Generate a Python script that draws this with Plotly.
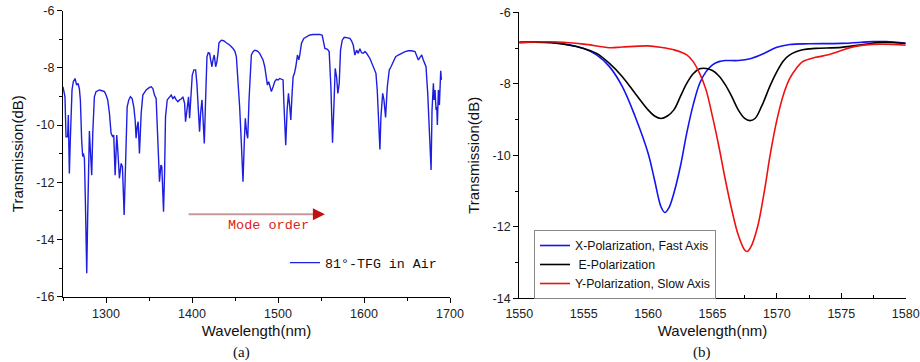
import plotly.graph_objects as go

# ---------------- Panel (a): 81°-TFG in air ----------------
wl_a = [1250, 1252.3, 1253.5, 1255.4, 1256.2, 1257.4, 1258.5, 1260.5, 1262.0, 1264.0,
        1265.9, 1267.5, 1269.0, 1270.2, 1271.7, 1272.9, 1273.7, 1274.9, 1276.0, 1277.6,
        1278.7, 1280.7, 1281.8, 1283.4, 1284.6, 1286.5, 1288.4, 1292.3, 1294.3, 1298.2,
        1300.1, 1302.0, 1304.0, 1305.9, 1307.9, 1309.0, 1310.6, 1311.7, 1312.5, 1313.7,
        1315.6, 1317.6, 1319.1, 1321.1, 1322.6, 1324.6, 1326.5, 1328.4, 1330.4, 1332.3,
        1333.9, 1335.0, 1336.2, 1337.4, 1338.9, 1340.9, 1342.8, 1346.7, 1350.6, 1352.5,
        1354.5, 1356.4, 1358.3, 1360.3, 1361.5, 1362.2, 1363.8, 1364.9, 1366.1, 1366.9,
        1368.1, 1369.2, 1371.2, 1373.9, 1375.8, 1377.8, 1379.7, 1381.7, 1383.6, 1385.5,
        1387.5, 1389.4, 1391.4, 1392.5, 1394.1, 1396.0, 1397.2, 1398.7, 1400.3, 1402.2,
        1404.2, 1405.7, 1407.3, 1408.8, 1410.0, 1411.6, 1412.7, 1414.3, 1415.8, 1417.4,
        1418.9, 1420.5, 1421.7, 1423.2, 1424.4, 1425.9, 1427.5, 1429.0, 1430.2, 1431.4,
        1434.1, 1436.8, 1439.9, 1443.8, 1447.7, 1450.0, 1451.6, 1453.5, 1455.4, 1457.4,
        1459.3, 1460.9, 1462.0, 1463.6, 1464.8, 1466.3, 1467.9, 1469.0, 1471.0, 1472.9,
        1474.9, 1476.8, 1478.7, 1480.7, 1482.6, 1484.6, 1486.5, 1487.7, 1489.2, 1490.4,
        1492.3, 1494.3, 1496.2, 1498.2, 1500.1, 1502.0, 1504.0, 1505.9, 1506.7, 1507.9,
        1509.0, 1510.6, 1512.2, 1513.7, 1514.9, 1516.4, 1517.6, 1519.1, 1520.7, 1522.6,
        1524.2, 1525.3, 1527.3, 1530.0, 1533.1, 1537.0, 1540.9, 1544.8, 1548.6, 1551.4,
        1552.5, 1554.5, 1557.6, 1559.5, 1561.5, 1562.6, 1563.4, 1565.0, 1566.5, 1568.1,
        1569.6, 1571.2, 1572.7, 1574.7, 1577.0, 1579.7, 1583.6, 1585.5, 1587.5, 1589.4,
        1591.4, 1593.3, 1595.2, 1597.2, 1599.1, 1601.1, 1603.0, 1606.9, 1610.8, 1613.9,
        1615.4, 1617.0, 1618.5, 1619.7, 1621.7, 1623.2, 1625.1, 1627.1, 1629.4, 1631.4,
        1634.1, 1636.8, 1639.9, 1643.8, 1647.7, 1651.6, 1655.4, 1659.3, 1661.3, 1663.2,
        1665.1, 1667.1, 1669.0, 1671.0, 1672.1, 1674.1, 1676.0, 1678.0, 1679.1, 1680.7,
        1681.5, 1682.6, 1683.8, 1684.6, 1685.3, 1686.5, 1687.7, 1688.4, 1689.2, 1690.0]
tr_a = [-8.66, -9.01, -10.41, -10.41, -9.65, -11.69, -10.52, -8.77, -8.48, -8.37,
        -8.60, -8.54, -8.72, -9.12, -10.52, -11.10, -10.99, -11.16, -12.62, -15.18,
        -13.20, -10.21, -10.87, -11.75, -10.29, -9.01, -8.83, -8.77, -8.79, -8.83,
        -8.95, -9.12, -9.59, -10.29, -10.41, -10.35, -11.75, -11.10, -10.35, -10.87,
        -11.86, -11.34, -11.45, -13.14, -11.22, -9.36, -9.12, -9.01, -9.07, -9.36,
        -9.82, -10.46, -10.06, -9.88, -10.99, -9.59, -8.95, -8.77, -8.68, -8.66,
        -8.72, -8.95, -9.07, -10.29, -11.45, -11.98, -11.40, -11.45, -12.39, -13.03,
        -11.69, -9.71, -9.12, -9.01, -8.95, -9.07, -9.01, -9.12, -9.18, -9.12,
        -9.09, -9.01, -9.24, -9.88, -9.36, -9.01, -9.76, -9.12, -8.25, -8.07,
        -8.07, -8.54, -9.47, -10.23, -9.59, -9.12, -9.71, -10.64, -9.12, -7.61,
        -7.47, -7.49, -7.72, -7.96, -7.72, -7.55, -7.96, -7.78, -7.49, -7.12,
        -7.03, -7.05, -7.12, -7.20, -7.32, -7.43, -7.61, -8.42, -9.36, -10.64,
        -11.98, -10.52, -9.76, -10.29, -10.46, -9.12, -7.84, -7.55, -7.43, -7.38,
        -7.40, -7.43, -7.49, -7.61, -7.72, -7.96, -8.48, -8.60, -8.48, -8.66,
        -8.83, -8.66, -8.48, -8.40, -8.42, -8.37, -8.40, -8.42, -9.12, -10.29,
        -10.70, -9.47, -8.89, -9.36, -9.82, -8.89, -8.31, -8.19, -7.96, -7.55,
        -7.72, -7.55, -7.14, -6.97, -6.91, -6.85, -6.83, -6.82, -6.83, -6.86,
        -7.03, -7.32, -7.35, -7.43, -8.66, -9.94, -10.62, -9.36, -8.02, -8.31,
        -8.89, -8.54, -7.38, -7.03, -6.93, -6.94, -6.97, -7.05, -7.20, -7.55,
        -7.38, -7.49, -7.33, -7.47, -7.49, -7.43, -7.49, -7.67, -7.96, -8.19,
        -8.77, -9.94, -10.85, -9.71, -8.89, -9.12, -9.73, -8.66, -8.07, -7.96,
        -7.78, -7.61, -7.55, -7.49, -7.43, -7.40, -7.40, -7.43, -7.55, -7.72,
        -7.63, -7.55, -7.72, -7.84, -7.96, -8.89, -10.29, -11.57, -9.47, -8.54,
        -9.12, -8.77, -9.47, -9.36, -10.00, -8.77, -9.30, -8.54, -8.10, -8.42]

# ---------------- Panel (b): polarization resolved ----------------
wl_x = [1550, 1552.5, 1555, 1556, 1557, 1558, 1559, 1560, 1560.5, 1561, 1561.3, 1561.6,
        1562, 1562.5, 1563, 1563.5, 1564, 1564.5, 1565, 1565.5, 1566, 1567, 1568, 1569,
        1570, 1571, 1572.5, 1575, 1577.5, 1578.5, 1580]
tr_x = [-6.84, -6.84, -7.01, -7.19, -7.52, -8.08, -8.92, -9.94, -10.69, -11.44, -11.60, -11.48,
        -11.06, -10.32, -9.38, -8.59, -7.99, -7.66, -7.47, -7.38, -7.35, -7.35, -7.29, -7.15,
        -6.98, -6.90, -6.88, -6.87, -6.82, -6.82, -6.87]

wl_e = [1550, 1552.5, 1555, 1556, 1557, 1558, 1559, 1560, 1560.5, 1561, 1561.5, 1562,
        1562.5, 1563, 1563.5, 1564, 1564.5, 1565, 1565.5, 1566, 1566.5, 1567, 1567.5, 1567.9,
        1568.3, 1568.8, 1569.5, 1570, 1570.5, 1571, 1572, 1573, 1575, 1577, 1578, 1580]
tr_e = [-6.84, -6.85, -7.01, -7.15, -7.43, -7.80, -8.27, -8.73, -8.90, -8.97, -8.90, -8.73,
        -8.36, -7.99, -7.72, -7.58, -7.57, -7.63, -7.78, -8.03, -8.36, -8.73, -8.97, -9.03,
        -8.97, -8.64, -8.03, -7.66, -7.36, -7.19, -7.05, -7.01, -6.98, -6.89, -6.84, -6.87]

wl_y = [1550, 1553, 1555, 1557, 1558, 1560, 1561, 1562, 1563, 1563.5, 1564, 1564.5,
        1565, 1565.5, 1566, 1566.5, 1567, 1567.5, 1567.7, 1568, 1568.5, 1569, 1569.5, 1570,
        1570.5, 1571, 1571.5, 1572, 1573, 1574, 1575, 1576, 1578, 1580]
tr_y = [-6.84, -6.83, -6.89, -6.99, -6.97, -6.94, -6.98, -7.05, -7.19, -7.38, -7.71, -8.17,
        -8.92, -9.76, -10.69, -11.53, -12.23, -12.65, -12.69, -12.55, -12.00, -11.06, -9.94, -9.01,
        -8.31, -7.85, -7.57, -7.38, -7.26, -7.19, -7.07, -6.96, -6.89, -6.92]

# Tick labels (with plain hyphen minus, as in the original)
yticks_a = [-16, -14, -12, -10, -8, -6]
yticklabels_a = ["-16", "-14", "-12", "-10", "-8", "-6"]
yticks_b = [-14, -12, -10, -8, -6]
yticklabels_b = ["-14", "-12", "-10", "-8", "-6"]

name_a = "81°-TFG in Air"
names_b = ["X-Polarization, Fast Axis", " E-Polarization", "Y-Polarization, Slow Axis"]
colors_b = ["#1414f0", "#000000", "#ee1111"]

W, H = 920, 362
fig = go.Figure()

fig.add_trace(go.Scatter(x=wl_a, y=tr_a, mode="lines", name=name_a,
                         line=dict(color="#1e1ee0", width=1.4),
                         xaxis="x", yaxis="y", legend="legend"))

for wl, tr, nm, c in zip([wl_x, wl_e, wl_y], [tr_x, tr_e, tr_y], names_b, colors_b):
    fig.add_trace(go.Scatter(x=wl, y=tr, mode="lines", name=nm, line=dict(color=c, width=1.6, shape="spline"),
                             xaxis="x2", yaxis="y2", legend="legend2"))

axis_common = dict(showline=True, linecolor="#000", linewidth=1.2, showgrid=False, zeroline=False,
                   automargin=False,
                   tickfont=dict(family="Liberation Sans, Arial", size=12.5, color="#222"),
                   title_font=dict(family="Liberation Sans, Arial", size=15, color="#111"),
                   tickcolor="#000", ticklen=5, tickwidth=1)

fig.update_layout(
    width=W, height=H, margin=dict(l=0, r=0, t=0, b=0, autoexpand=False),
    paper_bgcolor="white", plot_bgcolor="white",
    xaxis=dict(axis_common, domain=[63/W, 450/W], range=[1250, 1700], dtick=100, tick0=1300,
               ticks="outside", minor=dict(dtick=50, ticks="outside", ticklen=3, tickcolor="#000"),
               ticklabelstandoff=0,
               title=dict(text="Wavelength(nm)", standoff=5), anchor="y"),
    yaxis=dict(axis_common, domain=[1-296.7/H, 1-10.7/H], range=[-16, -6],
               tickmode="array", tickvals=yticks_a, ticktext=yticklabels_a,
               ticks="outside", minor=dict(dtick=1, ticks="outside", ticklen=3, tickcolor="#000"),
               title=dict(text="Transmission(dB)", standoff=9), anchor="x"),
    xaxis2=dict(axis_common, domain=[519.3/W, 905.7/W], range=[1550, 1580], dtick=5,
                ticks="inside", minor=dict(dtick=2.5, ticks="inside", ticklen=3, tickcolor="#000"),
                ticklabelstandoff=4,
                title=dict(text="Wavelength(nm)", standoff=5), anchor="y2"),
    yaxis2=dict(axis_common, domain=[1-298.3/H, 1-12.3/H], range=[-14, -6],
                tickmode="array", tickvals=yticks_b, ticktext=yticklabels_b,
                ticks="outside", minor=dict(dtick=1, ticks="outside", ticklen=3, tickcolor="#000"),
                title=dict(text="Transmission(dB)", standoff=9), anchor="x2"),
    legend=dict(x=285/W, y=1-263/H, xanchor="left", yanchor="middle", bgcolor="rgba(0,0,0,0)",
                font=dict(family="Liberation Mono", size=13.3, color="#111"), borderwidth=0),
    legend2=dict(x=534/W, y=1-230/H, xanchor="left", yanchor="top", bgcolor="white",
                 bordercolor="#888", borderwidth=1, traceorder="normal",
                 font=dict(family="Liberation Sans, Arial", size=12.3, color="#111")),
    showlegend=True,
)

# Mode-order arrow (panel a)
fig.add_shape(type="line", xref="x", yref="y", x0=1396, x1=1545, y0=-13.12, y1=-13.12,
              line=dict(color="#c49a9a", width=2))
fig.add_annotation(xref="x", yref="y", axref="x", ayref="y", x=1554.5, y=-13.12, ax=1544, ay=-13.12,
                   text="", showarrow=True, arrowhead=2, arrowsize=1.2, arrowwidth=2, arrowcolor="#c01010")
fig.add_annotation(xref="x", yref="y", x=1489, y=-13.5, text="Mode order", showarrow=False,
                   font=dict(family="Liberation Mono", size=13.5, color="#e02020"))

# Panel labels
fig.add_annotation(xref="paper", yref="paper", x=242/W, y=1-352/H, xanchor="center", yanchor="middle",
                   text="(a)", showarrow=False, font=dict(family="Liberation Serif", size=15, color="#111"))
fig.add_annotation(xref="paper", yref="paper", x=702/W, y=1-352/H, xanchor="center", yanchor="middle",
                   text="(b)", showarrow=False, font=dict(family="Liberation Serif", size=15, color="#111"))

fig.write_html("out.html")
